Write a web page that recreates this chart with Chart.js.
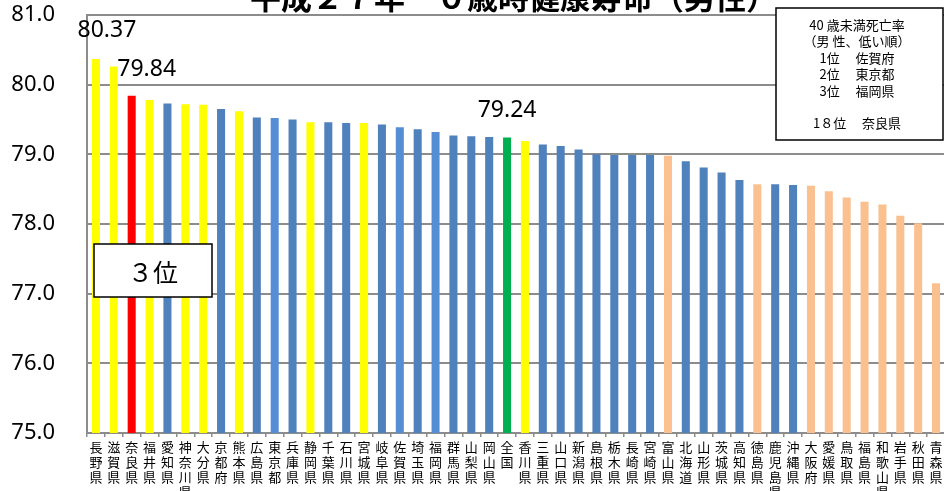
<!DOCTYPE html>
<html lang="ja">
<head>
<meta charset="utf-8">
<script src="https://cdn.jsdelivr.net/npm/chart.js@4/dist/chart.umd.min.js"></script>
<style>
    html, body { margin: 0; padding: 0; background: #fff; overflow: hidden; }
    #wrap { position: relative; width: 946px; height: 491px; }
</style>
</head>
<body>
<div id="wrap"><canvas id="chart"></canvas></div>
<script>
// 平成27年 0歳時健康寿命（男性）

const prefectures = [
    "長野県", "滋賀県", "奈良県", "福井県", "愛知県", "神奈川県", "大分県", "京都府",
    "熊本県", "広島県", "東京都", "兵庫県", "静岡県", "千葉県", "石川県", "宮城県",
    "岐阜県", "佐賀県", "埼玉県", "福岡県", "群馬県", "山梨県", "岡山県", "全国",
    "香川県", "三重県", "山口県", "新潟県", "島根県", "栃木県", "長崎県", "宮崎県",
    "富山県", "北海道", "山形県", "茨城県", "高知県", "徳島県", "鹿児島県", "沖縄県",
    "大阪府", "愛媛県", "鳥取県", "福島県", "和歌山県", "岩手県", "秋田県", "青森県"
];

const lifeExpectancy = [
    80.37, 80.26, 79.84, 79.78, 79.73, 79.72, 79.71, 79.65,
    79.62, 79.53, 79.52, 79.50, 79.46, 79.46, 79.45, 79.45,
    79.43, 79.39, 79.36, 79.32, 79.27, 79.26, 79.25, 79.24,
    79.19, 79.14, 79.12, 79.07, 79.00, 78.99, 78.99, 78.99,
    78.98, 78.90, 78.81, 78.74, 78.63, 78.57, 78.57, 78.56,
    78.55, 78.47, 78.38, 78.32, 78.28, 78.12, 78.01, 77.15
];

// Y: yellow, R: 奈良, B: blue, L: 40歳未満死亡率 top 3, G: 全国, O: orange
const barGroups = [
    "Y", "Y", "R", "Y", "B", "Y", "Y", "B",
    "Y", "B", "L", "B", "Y", "B", "B", "Y",
    "B", "L", "B", "L", "B", "B", "B", "G",
    "Y", "B", "B", "B", "B", "B", "B", "B",
    "O", "B", "B", "B", "B", "O", "B", "B",
    "O", "O", "O", "O", "O", "O", "O", "O"
];

const yTicks = [75, 76, 77, 78, 79, 80, 81];

// value labels: [index, dx, dy]
const valueLabels = [[0, 11, -28], [2, 15, -26], [23, 0, -27]];

const noteLines = [
    "40 歳未満死亡率",
    "（男 性、低い順）",
    "1位　 佐賀府",
    "2位　 東京都",
    "3位　 福岡県",
    "",
    "1８位　 奈良県"
];

const groupColors = {
    Y: "#FFFF00",
    R: "#FF0000",
    B: "#4F81BD",
    L: "#558ED5",
    G: "#00B050",
    O: "#FAC090"
};

const gridColor = "#8C8C8C";
const numFont = "'Noto Sans', 'DejaVu Sans', sans-serif";
const jpFont = "'Noto Sans CJK JP', 'Noto Sans', sans-serif";

const annotations = {
    id: "annotations",
    afterDatasetsDraw(chart) {
        const ctx = chart.ctx;
        const meta = chart.getDatasetMeta(0);
        ctx.save();
        ctx.fillStyle = "#000";
        ctx.font = "23px " + numFont;
        ctx.textAlign = "center";
        ctx.textBaseline = "middle";
        valueLabels.forEach(([i, dx, dy]) => {
            const bar = meta.data[i];
            ctx.fillText(lifeExpectancy[i].toFixed(2), bar.x + dx, bar.y + dy);
        });
        ctx.restore();
    },
    afterDraw(chart) {
        const ctx = chart.ctx;
        ctx.save();

        // title, cut off at the top
        ctx.fillStyle = "#000";
        ctx.font = "bold 31px " + jpFont;
        ctx.textAlign = "left";
        ctx.textBaseline = "alphabetic";
        ctx.fillText("平成２７年　０歳時健康寿命（男性）", 250, 9);

        // note box
        ctx.fillStyle = "#fff";
        ctx.fillRect(776, 8, 167, 132);
        ctx.strokeStyle = "#000";
        ctx.lineWidth = 1.5;
        ctx.strokeRect(776, 8, 167, 132);
        ctx.fillStyle = "#000";
        ctx.font = "13px " + jpFont;
        ctx.textAlign = "center";
        ctx.textBaseline = "middle";
        noteLines.forEach((line, k) => {
            ctx.fillText(line, 857, 25 + k * 16.4);
        });

        // rank box
        ctx.fillStyle = "#fff";
        ctx.fillRect(94, 244, 118, 53);
        ctx.strokeRect(94, 244, 118, 53);
        ctx.fillStyle = "#000";
        ctx.font = "25px " + jpFont;
        ctx.fillText("３位", 153, 272);

        ctx.restore();
    }
};

new Chart(document.getElementById("chart"), {
    type: "bar",
    data: {
        labels: prefectures.map((p) => p.split("")),
        datasets: [{
            data: lifeExpectancy,
            backgroundColor: barGroups.map((g) => groupColors[g]),
            categoryPercentage: 1.0,
            barPercentage: 0.45
        }]
    },
    options: {
        responsive: true,
        maintainAspectRatio: false,
        animation: false,
        layout: { padding: { top: 15, right: 1, left: 0, bottom: 0 } },
        plugins: {
            legend: { display: false },
            tooltip: { enabled: false }
        },
        scales: {
            x: {
                afterFit: (scale) => {
                    scale.height = 58;
                    scale.paddingLeft = 0;
                    scale.paddingRight = 0;
                    scale.paddingTop = 0;
                    scale.paddingBottom = 0;
                },
                grid: {
                    drawOnChartArea: false,
                    drawTicks: true,
                    tickLength: 4,
                    color: gridColor,
                    lineWidth: 1.5
                },
                border: { color: gridColor, width: 2 },
                ticks: {
                    autoSkip: false,
                    maxRotation: 0,
                    minRotation: 0,
                    padding: 3,
                    color: "#000",
                    font: { family: jpFont, size: 13, lineHeight: 15 / 13 }
                }
            },
            y: {
                min: yTicks[0],
                max: yTicks[yTicks.length - 1],
                afterFit: (scale) => {
                    scale.width = 87;
                    scale.paddingTop = 0;
                    scale.paddingBottom = 0;
                },
                afterBuildTicks: (scale) => {
                    scale.ticks = yTicks.map((v) => ({ value: v }));
                },
                grid: {
                    color: gridColor,
                    lineWidth: 2,
                    drawTicks: false
                },
                border: { color: gridColor, width: 2 },
                ticks: {
                    padding: 32,
                    color: "#000",
                    font: { family: numFont, size: 22 },
                    callback: (v) => Number(v).toFixed(1)
                }
            }
        }
    },
    plugins: [annotations]
});
</script>
</body>
</html>
